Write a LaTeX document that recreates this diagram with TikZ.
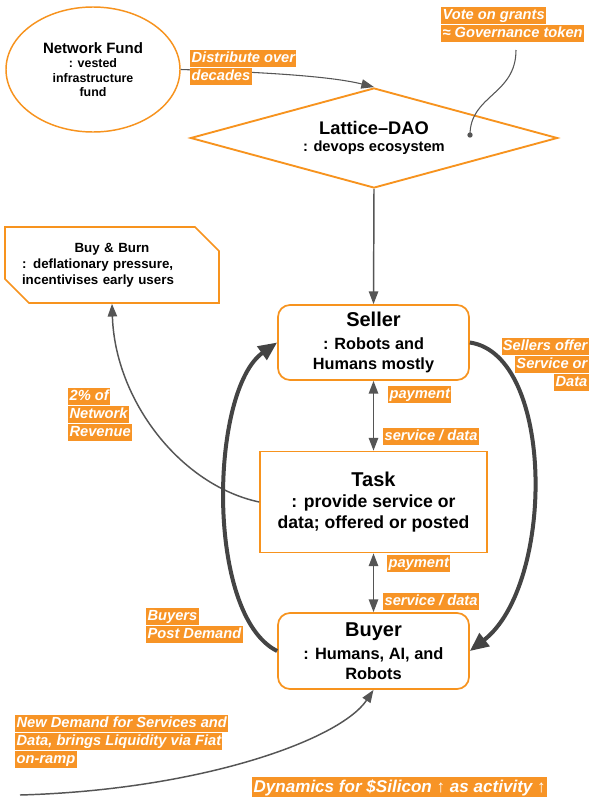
\documentclass[tikz,border=0pt]{standalone}
\usepackage{fontspec}
\setmainfont{Liberation Sans}
\usetikzlibrary{shapes.geometric,shapes.misc,arrows.meta}
\definecolor{orng}{RGB}{247,147,30}
\definecolor{lblor}{RGB}{247,148,38}
\definecolor{arr}{RGB}{85,85,85}
\definecolor{thk}{RGB}{68,68,68}
\newcommand\hlbox[1]{{\setlength{\fboxsep}{0pt}\colorbox{lblor}{\rule[-3.4pt]{0pt}{12.8pt}\hspace{1pt}#1\hspace{1pt}}}}
\newcommand\hlboxbig[1]{{\setlength{\fboxsep}{0pt}\colorbox{lblor}{\rule[-3.9pt]{0pt}{15pt}\hspace{1pt}#1\hspace{1pt}}}}
\begin{document}
\begin{tikzpicture}[x=0.75pt,y=-0.75pt,
  lbl/.style={inner sep=0pt, text=white, font=\fontsize{11}{13.5}\selectfont\bfseries\itshape},
  box/.style={draw=orng, line width=1.3pt, fill=white, text=black, inner sep=0pt},
  thinline/.style={draw=arr, line width=1.1pt},
  smalltip/.style={-{Triangle[length=9.5pt,width=7pt]}},
  bothtip/.style={{Triangle[length=9.5pt,width=7pt]}-{Triangle[length=9.5pt,width=7pt]}},
  thickline/.style={draw=thk, line width=3pt, -{Triangle[length=14pt,width=12pt]}}]
\path[fill=white, use as bounding box] (0,0) rectangle (597,803);

% nodes
\node[ellipse, draw=orng, line width=1.1pt, minimum width=130.5pt, minimum height=93.75pt, inner sep=0pt, align=center, font=\fontsize{9.3}{10.75}\selectfont\bfseries] (nf) at (93,69.5)
  {{\fontsize{11.25}{11}\selectfont Network Fund}\\: vested\\infrastructure\\fund};
\node[diamond, draw=orng, line width=1.4pt, minimum width=275.25pt, minimum height=75pt, shape aspect=3.67, inner sep=0pt, align=center, font=\fontsize{11}{13.2}\selectfont\bfseries] (dao) at (374,138)
  {{\fontsize{13.7}{13}\selectfont Lattice–DAO}\\: devops ecosystem};
\node[box, rounded corners=9pt, minimum width=143.25pt, minimum height=56.25pt, align=center, font=\fontsize{12.2}{15.2}\selectfont\bfseries] (seller) at (373.5,342.5)
  {{\fontsize{15}{15}\selectfont Seller}\\[2.35pt]: Robots and\\Humans mostly};
\node[box, minimum width=170.25pt, minimum height=75.75pt, align=center, font=\fontsize{13.2}{15.75}\selectfont\bfseries] (task) at (373.5,502)
  {{\fontsize{15}{15}\selectfont Task}\\: provide service or\\data; offered or posted};
\node[box, rounded corners=9pt, minimum width=143.25pt, minimum height=57pt, align=center, font=\fontsize{12.3}{15}\selectfont\bfseries] (buyer) at (373.5,651)
  {{\fontsize{15}{15}\selectfont Buyer}\\[2.5pt]: Humans, AI, and\\Robots};
\node[chamfered rectangle, chamfered rectangle corners={north east,south west}, chamfered rectangle xsep=9pt, chamfered rectangle ysep=9pt, draw=orng, line width=1.3pt, minimum width=160.5pt, minimum height=57pt, text width=135pt, inner sep=0pt, align=left, font=\fontsize{10}{12}\selectfont\bfseries] (bb) at (112,265)
  {{\centering Buy \& Burn\par}: deflationary pressure,\\incentivises early users};
\node[circle, fill=arr, inner sep=0pt, minimum size=4pt] (dot) at (470,135) {};
\coordinate (vs) at (516,50);
\coordinate (nd) at (20,795);

% connectors
\draw[thinline, line width=0.8pt, smalltip] (nf.east) .. controls (260,72) and (330,76) .. (dao.north);
\draw[thinline, line width=0.8pt] (vs) .. controls (516,95) and (470,95) .. (dot.center);
\draw[thinline, smalltip] (dao.south) -- (seller.north);
\draw[thinline, bothtip] (seller.south) -- (task.north);
\draw[thinline, bothtip] (task.south) -- (buyer.north);
\draw[thinline, smalltip] (task.west) .. controls (180,485) and (115,400) .. (bb.south);
\draw[thickline] (buyer.west) .. controls (205,615) and (210,390) .. (seller.west);
\draw[thickline] (seller.east) .. controls (555,355) and (555,585) .. (buyer.east);
\draw[thinline, smalltip] (nd) .. controls (200,790) and (340,740) .. (buyer.south);

% labels
\node[lbl, align=left, anchor=north west] (l1) at (190,50) {\hlbox{Distribute over}\\\hlbox{decades}};
\node[lbl, align=left, anchor=north west] (l2) at (441,7) {\hlbox{Vote on grants}\\\hlbox{≈ Governance token}};
\node[lbl, align=left, anchor=north west] (l3) at (68,388) {\hlbox{2\% of}\\\hlbox{Network}\\\hlbox{Revenue}};
\node[lbl, align=right, anchor=north east] (l4) at (589,338) {\hlbox{Sellers offer}\\\hlbox{Service or}\\\hlbox{Data}};
\node[lbl, anchor=north west] (l5) at (388,386) {\hlbox{payment}};
\node[lbl, anchor=north west] (l6) at (383,428) {\hlbox{service / data}};
\node[lbl, anchor=north west] (l7) at (387,555) {\hlbox{payment}};
\node[lbl, anchor=north west] (l8) at (383,593) {\hlbox{service / data}};
\node[lbl, align=left, anchor=north west] (l9) at (146,608) {\hlbox{Buyers}\\\hlbox{Post Demand}};
\node[lbl, align=left, anchor=north west] (l10) at (15,715) {\hlbox{New Demand for Services and}\\\hlbox{Data, brings Liquidity via Fiat}\\\hlbox{on-ramp}};
\node[lbl, font=\fontsize{12.8}{15}\selectfont\bfseries\itshape, anchor=north west] (l11) at (252,777) {\hlboxbig{Dynamics for \$Silicon ↑ as activity ↑}};
\end{tikzpicture}
\end{document}
